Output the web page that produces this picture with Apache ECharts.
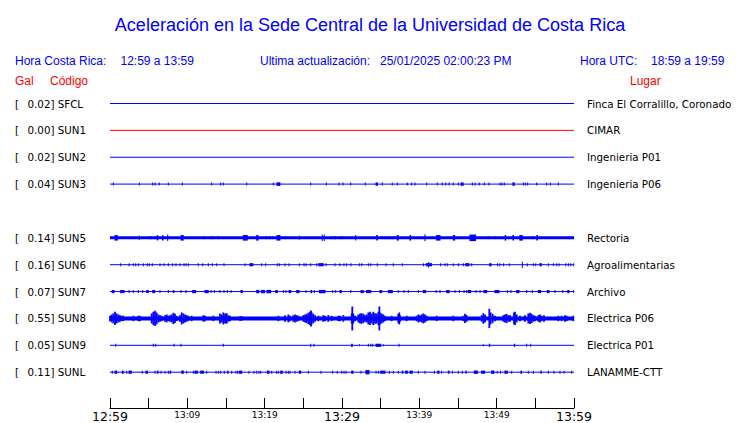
<!DOCTYPE html>
<html>
<head>
<meta charset="utf-8">
<script src="https://cdn.jsdelivr.net/npm/echarts@6/dist/echarts.min.js"></script>
<style>
html,body{margin:0;padding:0;background:#fff;}
#chart{width:740px;height:423px;}
</style>
</head>
<body>
<div id="chart"></div>
<script>
// ---------------- DATA ----------------
const stationCodes = ['SFCL','SUN1','SUN2','SUN3','','SUN5','SUN6','SUN7','SUN8','SUN9','SUNL'];
const peakGal      = ['0.02','0.00','0.02','0.04','','0.14','0.16','0.07','0.55','0.05','0.11'];
const places       = ['Finca El Corralillo, Coronado','CIMAR','Ingenieria P01','Ingenieria P06','',
                      'Rectoria','Agroalimentarias','Archivo','Electrica P06','Electrica P01','LANAMME-CTT'];
const xTickLabels  = ['12:59','','13:09','','13:19','','13:29','','13:39','','13:49','','13:59'];
const majorTickLabels = ['12:59','13:29','13:59'];
const titleText   = 'Aceleración en la Sede Central de la Universidad de Costa Rica';
const localRange  = '12:59 a 13:59';
const utcRange    = '18:59 a 19:59';
const updatedAt   = '25/01/2025 02:00:23 PM';

// spikes: minute after 12:59, relative amplitude (half height), optional duration (minutes)
const spikesSUN3 = [0.43,3.79,5.52,5.82,6.37,7.54,9.35,13.15,14.31,14.65,17.68,21.12,[21.6,1.8,0.5],25.95,27.97,29.61,30.13,
  31.13,33.01,[34.4,1.7,0.3],35.21,36.5,37.15,38.44,39.01,39.44,40.95,42.32,42.97,43.41,43.84,44.39,45.04,[45.4,1.7,0.4],
  46.85,47.2,47.75,48.4,49.01,50.43,50.69,50.99,[52.1,1.7,0.3],53.44,53.7,54.01,55.18,56.47,56.94,57.97];
const spikesSUN5 = [[0.65,2.8,0.43],[3.79,2.2],5.08,5.39,5.82,[6.1,2.6,0.2],[6.8,2.6,0.2],[7.46,3.3],[9.2,2.8,0.4],12.16,13.06,
  13.36,14.0,[17.24,2.8,0.64],[18.97,2.8,0.3],20.26,20.69,21.04,[21.6,2.8,0.5],22.67,[24.48,2.0],[27.45,3.3],[27.71,3.3],28.67,
  29.0,29.18,29.74,30.04,[31.77,2.8,0.13],[34.5,2.8,0.2],35.21,35.56,35.9,36.2,36.6,[37.15,2.8,0.25],[38.8,2.8,0.2],[40.73,3.5],
  [42.24,2.8,0.56],[44.4,2.8,0.3],[46.55,3.3,0.85],48.9,49.8,[51.1,2.8,0.2],[52.1,2.8,0.2],[53.0,2.8,0.44],54.66,[55.2,2.8,0.2],59.4];
const spikesSUN6 = [1.38,2.46,3.01,[3.32,1.5,0.1],3.66,4.31,4.83,5.08,5.47,6.47,6.98,7.54,8.11,8.53,9.05,9.57,9.83,10.13,11.42,
  11.99,12.71,13.23,13.8,14.74,17.46,[18.1,1.6,0.5],19.62,20.13,21.63,21.89,22.63,23.15,24.48,25.09,25.35,25.95,26.73,[27.0,1.6,0.7],
  27.94,29.1,29.74,30.26,30.6,31.16,32.24,32.55,33.41,33.72,34.56,35.69,36.63,37.8,40.53,[40.9,1.6,0.8],[41.2,2.7],42.76,43.32,
  43.62,44.39,45.04,45.69,[46.0,1.6,0.55],46.77,[49.1,1.6,0.3],50.11,50.4,50.9,51.63,[53.31,3.2],53.96,54.74,55.05,[55.6,1.6,0.3],
  56.68,57.33,57.76,58.06,58.93,59.27,59.58,59.95];
const spikesSUN7 = [[0.3,1.6,0.35],[1.38,1.6,0.56],2.46,3.01,3.66,4.23,[4.74,1.5,0.34],[5.52,1.6,0.39],6.47,7.54,[8.19,1.5,0.21],
  9.18,9.83,[10.69,1.6,0.52],[12.28,1.6,0.56],13.06,13.49,14.22,14.74,15.17,15.65,[16.94,1.6,0.3],[18.97,1.7,0.4],[19.6,1.7,0.5],
  [20.3,1.7,0.6],[21.43,1.6,0.33],22.41,22.76,[23.15,1.6,0.35],[24.14,1.6,0.43],25.34,[25.99,1.6,0.21],26.42,[27.07,1.7,0.86],28.8,
  29.18,[29.74,1.6,0.3],31.13,[32.46,1.6,0.42],[33.19,1.6,0.65],[34.91,1.6,0.35],[35.99,1.6,0.64],37.28,38.02,38.57,39.87,
  [40.51,1.6,0.44],42.16,42.67,[43.54,1.6,0.43],44.61,45.17,45.78,46.12,[46.33,1.6,0.44],47.33,47.85,[48.36,1.6,0.48],
  [49.78,1.6,0.65],51.38,51.85,[52.59,1.6,0.43],53.88,54.6,[55.38,1.6,0.44],[56.55,1.6,0.35],57.54,58.54,[59.18,1.6,0.3],59.95];
const spikesSUN8 = [[0,2.7],[0.22,4],[0.43,5],[0.65,6.7],[0.86,5],[1.08,4],[1.29,3.3],[1.51,2.7],[1.72,2.7],[3.02,2.7],[3.66,2.7],
  [3.88,2.7],[5.39,5],[5.6,6.7],[5.82,7.7],[6.03,6],[6.25,4],[6.47,3.3],[6.68,2.7],[7.11,3.3],[7.33,4],[7.54,2.7],[7.76,3.3],
  [7.97,4],[8.19,5.7],[8.4,4.7],[8.62,2.7],[9.05,3.3],[9.27,6],[9.48,5],[9.7,4],[9.91,3.3],[10.13,2.7],[10.56,2.7],[12.07,3.3],
  [12.28,2.7],[13.36,2.7],[14.22,5],[14.44,4],[14.65,6],[14.87,5],[15.09,5.3],[15.3,3.3],[15.52,2.7],[16.81,2.3],[17.03,2.3],
  [21.77,2.7],[22.63,3.3],[23.06,4],[23.28,2.7],[23.71,3.3],[23.92,4],[24.14,3.3],[24.36,2.7],[25.0,3.3],[25.22,4],[25.43,4.7],
  [25.65,5.7],[25.86,6.7],[25.99,8],[26.08,6],[26.29,4.7],[26.51,3.3],[26.94,2.7],[27.58,3.3],[27.8,2.7],[28.23,3.3],[28.66,2.7],
  [29.52,2.7],[29.74,2.7],[30.17,3.3],[31.25,5],[31.33,12],[31.46,5],[31.68,2.7],[32.11,4],[32.33,5],[32.54,5.3],[32.76,4.7],
  [32.97,3.3],[33.19,4],[33.4,6],[33.62,6.7],[33.83,5],[34.05,6.7],[34.27,5.3],[34.48,5],[34.7,6.7],[34.83,12],[34.91,6],[35.13,5],
  [35.34,4],[35.56,2.7],[36.42,2.7],[37.28,4.7],[37.41,6],[37.5,3.3],[38.36,2.7],[39.65,2.7],[39.87,4],[40.08,3.3],[40.3,4],
  [40.52,5],[40.73,4],[40.95,2.7],[42.24,2.7],[44.39,2.7],[45.69,2.7],[45.9,4.7],[46.12,3.3],[48.06,3.3],[48.27,5.3],[48.49,4],
  [49.05,9.7],[49.22,6],[49.48,4.7],[49.78,2.7],[50.86,3.3],[51.07,4],[51.29,4.7],[51.51,3.3],[51.72,3.3],[52.24,6],[52.37,6.7],
  [52.58,4],[53.01,2.7],[53.66,3.3],[54.09,5],[54.31,5.7],[54.52,4.7],[54.74,3.3],[54.95,2.7],[55.38,3.3],[55.6,4],[55.82,2.7],
  [56.12,3.3],[57.97,2.7],[58.4,2.7],[58.83,3.3],[59.05,2.7],[59.91,2.7]];
const spikesSUN9 = [0.74,5.6,5.91,8.28,9.18,14.65,[25.95,1.6],26.38,[31.25,1.6,0.21],[32.24,1.0],33.41,33.72,33.97,[34.4,1.6,0.73],
  [35.34,1.0],37.37,[48.27,1.0],[49.05,1.6,0.18],[52.29,1.6,0.17],53.88,54.4];
const spikesSUNL = [0.3,[0.65,1.6,0.35],[1.59,1.6,0.26],2.16,[2.46,1.6,0.43],4.18,[4.66,1.6,0.31],5.82,[6.12,1.6,0.22],6.6,7.11,
  7.54,[7.76,1.6,0.22],[9.27,1.6,0.34],9.92,10.78,[11.0,1.6,0.42],[11.73,1.6,0.47],12.5,13.71,14.01,14.31,14.78,[15.22,1.6,0.17],
  15.74,16.29,16.51,[16.72,1.6,0.44],17.97,18.62,18.97,19.27,19.49,[20.34,1.6,0.35],20.91,21.55,21.76,[22.07,1.6,0.34],22.76,
  23.06,23.27,23.92,[24.48,1.6,0.31],25.65,27.28,28.8,29.39,29.96,30.26,30.52,[31.25,1.6,0.3],32.46,[33.1,2.2,0.52],34.4,34.7,
  [35.0,1.6,0.69],36.12,36.64,37.28,[37.8,1.6,0.2],[38.23,1.6,0.35],[38.79,1.6,0.43],39.87,40.73,41.94,[42.37,1.6,0.3],42.89,
  [43.75,1.6,0.21],44.26,45.04,45.56,[46.03,1.6,0.17],[47.11,1.7,0.52],[48.06,1.6,0.51],[49.35,1.7,0.43],50.08,50.51,
  [51.07,1.6,0.43],51.94,[53.14,1.6,0.22],54.09,54.74,[55.73,1.6,0.17],56.68,57.41,58.19,58.71,59.7];

const stationSpikes = {SUN3: spikesSUN3, SUN5: spikesSUN5, SUN6: spikesSUN6, SUN7: spikesSUN7,
                       SUN8: spikesSUN8, SUN9: spikesSUN9, SUNL: spikesSUNL};

// ---------------- STYLE / LAYOUT ----------------
const BLUE = '#0000ff', RED = '#ff0000';
const GAIN = 27;              // amplitude units per trace spacing
const DEFAULT_AMP = 1.5;
const traceColor = code => code === 'SUN1' ? RED : BLUE;
const baseWidth = {SUN5: 3, SUN8: 4};
const minSpikeWidth = {SUN8: 1.8};
const X_MIN = 0, X_MAX = 60, X_STEP = 5;
const Y_MIN = 0, Y_MAX = 34 / 3;   // rows 0..10 plus space down to the time axis

const series = [];
stationCodes.forEach((code, row) => {
  if (!code) return;
  series.push({
    type: 'line', silent: true, symbol: 'none', animation: false, clip: false,
    data: [[X_MIN, row], [X_MAX, row]],
    lineStyle: {color: traceColor(code), width: baseWidth[code] || 1}
  });
  const sp = stationSpikes[code];
  if (sp) {
    const mw = minSpikeWidth[code] || 1;
    series.push({
      type: 'custom', silent: true, animation: false, clip: false,
      encode: {x: 0, y: 3},
      data: sp.map(s => Array.isArray(s) ? [s[0], s[1], s[2] || 0, row] : [s, DEFAULT_AMP, 0, row]),
      renderItem: (params, api) => {
        const m = api.value(0), amp = api.value(1), dur = api.value(2), r = api.value(3);
        const p0 = api.coord([m, r]);
        const p1 = api.coord([m + dur, r]);
        const rowPx = api.size([0, 1])[1];
        const h = amp * rowPx / GAIN;
        const w = Math.max(mw, p1[0] - p0[0]);
        return {type: 'rect', shape: {x: p0[0] - mw / 2, y: p0[1] - h, width: w, height: 2 * h},
                style: {fill: traceColor(code)}};
      }
    });
  }
});

const chart = echarts.init(document.getElementById('chart'), null, {renderer: 'svg'});
const HEAD_FONT = '12px "Liberation Sans", Arial, sans-serif';
const headText = (x, y, text, color) => ({type: 'text', x, y, silent: true,
  style: {text, fill: color, font: HEAD_FONT, verticalAlign: 'middle', align: 'left'}});
const isRow = v => Math.abs(v - Math.round(v)) < 1e-6;

chart.setOption({
  animation: false,
  backgroundColor: '#fff',
  title: {
    text: titleText, left: 'center', top: 11,
    textStyle: {color: BLUE, fontSize: 18, fontWeight: 'normal', fontFamily: '"Liberation Sans", Arial, sans-serif'}
  },
  graphic: [
    headText(15, 61, 'Hora Costa Rica:', BLUE),
    headText(120.5, 61, localRange, BLUE),
    headText(260, 61, 'Ultima actualización:', BLUE),
    headText(380, 61, updatedAt, BLUE),
    headText(580, 61, 'Hora UTC:', BLUE),
    headText(651, 61, utcRange, BLUE),
    headText(15, 81, 'Gal', RED),
    headText(50, 81, 'Código', RED),
    headText(630, 81, 'Lugar', RED)
  ],
  grid: {left: 110, right: 166, top: 103.5, bottom: 13.5, containLabel: false},
  xAxis: {
    type: 'value', min: X_MIN, max: X_MAX, interval: X_STEP, position: 'bottom',
    axisLine: {show: true, onZero: false, lineStyle: {color: '#000', width: 1}},
    axisTick: {show: true, inside: true, length: 10, lineStyle: {color: '#000', width: 1}},
    splitLine: {show: false},
    axisLabel: {
      show: true, margin: 1, showMinLabel: true, showMaxLabel: true, color: '#000',
      formatter: v => {
        const t = xTickLabels[Math.round(v / X_STEP)] || '';
        if (!t) return '';
        return majorTickLabels.includes(t) ? '{big|' + t + '}' : '{small|' + t + '}';
      },
      rich: {
        big: {fontSize: 12.5, fontFamily: '"DejaVu Sans", sans-serif', color: '#000', padding: [1, 0, 0, 0]},
        small: {fontSize: 9, fontFamily: '"DejaVu Sans", sans-serif', color: '#000', padding: [1, 0, 0, 0]}
      }
    }
  },
  yAxis: [{
    type: 'value', min: Y_MIN, max: Y_MAX, interval: 1, inverse: true, position: 'left',
    axisLine: {show: false, onZero: false}, axisTick: {show: false}, splitLine: {show: false},
    axisLabel: {
      show: true, margin: 95, align: 'left', color: '#000', showMaxLabel: false,
      formatter: v => {
        const i = Math.round(v);
        if (!isRow(v) || !stationCodes[i]) return '';
        return '{b|[}{t|' + peakGal[i] + '] ' + stationCodes[i] + '}';
      },
      rich: {
        b: {width: 12.5, fontSize: 10.3, fontFamily: '"DejaVu Sans", sans-serif', color: '#000'},
        t: {fontSize: 10.3, fontFamily: '"DejaVu Sans", sans-serif', color: '#000'}
      }
    }
  }, {
    type: 'value', min: Y_MIN, max: Y_MAX, interval: 1, inverse: true, position: 'right',
    axisLine: {show: false, onZero: false}, axisTick: {show: false}, splitLine: {show: false},
    axisLabel: {
      show: true, margin: 13, align: 'left', color: '#000', fontSize: 10.3, showMaxLabel: false,
      fontFamily: '"DejaVu Sans", sans-serif',
      formatter: v => (isRow(v) && places[Math.round(v)]) || ''
    }
  }],
  series
});
</script>
</body>
</html>
